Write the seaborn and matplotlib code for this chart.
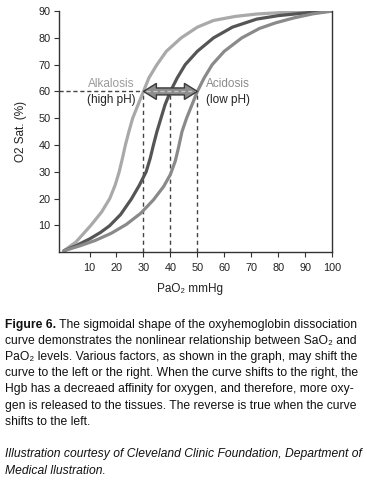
import matplotlib
matplotlib.use("Agg")
import matplotlib.pyplot as plt
from matplotlib.patches import Polygon
import seaborn as sns
import pandas as pd

# --- data ---
alk_x = [0.5, 5, 10.5, 14.5, 17.5, 19.5, 21, 22.2, 23.3, 24.6, 26, 28, 30, 32, 35, 38.5, 44, 50, 56, 64, 72, 82, 91, 100]
alk_y = [0.5, 3.8, 10, 15, 20, 25, 30, 35, 40, 45, 50, 55, 60, 65, 70, 75, 80, 84, 86.5, 88, 88.9, 89.5, 89.8, 90]

nor_x = [0.5, 5, 10, 14, 17.4, 21.5, 25.5, 28.5, 31, 32.5, 33.7, 35, 36.5, 38, 40, 42.5, 45.5, 50, 56, 63, 72, 80, 91, 100]
nor_y = [0.5, 2.4, 4.9, 7.3, 9.8, 14, 19.8, 25, 30, 35, 40, 45, 50, 55, 60, 65, 70, 75, 80, 84, 87, 88.3, 89.4, 90]

aci_x = [0.5, 6, 12, 18, 23.6, 29, 33.7, 37.5, 40, 41.8, 43, 44.3, 46, 48, 50, 52.5, 55.5, 60, 66.5, 73, 79, 86, 93, 100]
aci_y = [0.5, 2.2, 4.3, 7.0, 10.3, 14.5, 19.5, 24.5, 29, 34, 39, 45, 50, 55, 60, 65, 70, 75, 80, 83.5, 85.6, 87.5, 89, 90]

xticks = [10, 20, 30, 40, 50, 60, 70, 80, 90, 100]
yticks = [10, 20, 30, 40, 50, 60, 70, 80, 90]
ref_y = 60
ref_x = [30, 40, 50]

caption_first = "The sigmoidal shape of the oxyhemoglobin dissociation"
caption = [
    "curve demonstrates the nonlinear relationship between SaO\u2082 and",
    "PaO\u2082 levels. Various factors, as shown in the graph, may shift the",
    "curve to the left or the right. When the curve shifts to the right, the",
    "Hgb has a decreaed affinity for oxygen, and therefore, more oxy-",
    "gen is released to the tissues. The reverse is true when the curve",
    "shifts to the left.",
]
credit = [
    "Illustration courtesy of Cleveland Clinic Foundation, Department of",
    "Medical llustration.",
]

sns.set_style("white")
plt.rcParams["font.family"] = ["Liberation Sans", "DejaVu Sans"]

fig = plt.figure(figsize=(3.67, 4.82), dpi=100)
ax = fig.add_axes([0.161, 0.477, 0.744, 0.500])

df = pd.concat([
    pd.DataFrame({"x": alk_x, "y": alk_y, "c": "alk"}),
    pd.DataFrame({"x": nor_x, "y": nor_y, "c": "nor"}),
    pd.DataFrame({"x": aci_x, "y": aci_y, "c": "aci"}),
])
palette = {"alk": "#a9a9a9", "nor": "#555555", "aci": "#8a8a8a"}
sns.lineplot(data=df, x="x", y="y", hue="c", palette=palette, sort=False,
             linewidth=2.3, legend=False, ax=ax, zorder=2)
for line in ax.lines:
    line.set_solid_capstyle("round")
    line.set_solid_joinstyle("round")

# dashed reference lines
ax.plot([-1.3, ref_x[0]], [ref_y, ref_y], ls=(0, (3, 2)), color="#444444", lw=1.0, zorder=1)
for xv in ref_x:
    ax.plot([xv, xv], [0, ref_y], ls=(0, (3, 2.5)), color="#444444", lw=1.0, zorder=1)

# double-headed arrow between the shifted curves (shape sizes in data units)
x0, x1 = ref_x[0], ref_x[2]
hl, hw, sw = 4.8, 3.0, 1.3
arrow_pts = [
    (x0, ref_y), (x0 + hl, ref_y + hw), (x0 + hl, ref_y + sw), (x1 - hl, ref_y + sw),
    (x1 - hl, ref_y + hw), (x1, ref_y), (x1 - hl, ref_y - hw), (x1 - hl, ref_y - sw),
    (x0 + hl, ref_y - sw), (x0 + hl, ref_y - hw),
]
ax.add_patch(Polygon(arrow_pts, closed=True, facecolor="#8c8c8c", edgecolor="#3a3a3a",
                     lw=1.0, joinstyle="miter", zorder=4))
ax.plot([x0 + 1, x1 - 1], [ref_y, ref_y], ls=(0, (3, 2)), color="#c8c8c8", lw=1.0, zorder=5)

ax.text(18, 60.6, "Alkalosis", color="#9a9a9a", fontsize=8.5, ha="center", va="bottom")
ax.text(18, 59.2, "(high pH)", color="#222222", fontsize=8.5, ha="center", va="top")
ax.text(61.5, 60.6, "Acidosis", color="#8a8a8a", fontsize=8.5, ha="center", va="bottom")
ax.text(61.5, 59.2, "(low pH)", color="#222222", fontsize=8.5, ha="center", va="top")

ax.set_xlim(-1.3, 100)
ax.set_ylim(0, 90)
ax.set_xticks(xticks)
ax.set_yticks(yticks)
ax.set_xticklabels([str(v) for v in xticks])
ax.set_yticklabels([str(v) for v in yticks])
ax.tick_params(axis="both", direction="out", length=3.5, width=0.8, color="#333333",
               labelsize=7.8, labelcolor="#222222", pad=2.5, left=True, bottom=True)
ax.tick_params(axis="x", pad=4)
for s in ["left", "bottom", "right"]:
    ax.spines[s].set_color("#333333")
    ax.spines[s].set_linewidth(1.0)
ax.spines["top"].set_visible(False)
ax.set_xlabel("PaO\u2082 mmHg", fontsize=8.5, color="#222222")
ax.xaxis.set_label_coords(0.478, -0.128)
ax.set_ylabel("O2 Sat. (%)", fontsize=8.5, color="#222222")
ax.yaxis.set_label_coords(-0.117, 0.5)

# caption
fs = 8.75
t0 = fig.text(5 / 367, 1 - 325 / 482, "Figure 6.", fontsize=fs, fontweight="bold",
              ha="left", va="center", color="#111111")
ax.annotate(" " + caption_first, xy=(1, 0), xycoords=t0, ha="left", va="bottom",
            fontsize=fs, color="#111111", annotation_clip=False)
for i, line in enumerate(caption):
    fig.text(5 / 367, 1 - (325 + 16.1 * (i + 1)) / 482, line, fontsize=fs,
             ha="left", va="center", color="#111111")
for i, line in enumerate(credit):
    fig.text(5 / 367, 1 - (454 + 16.5 * i) / 482, line, fontsize=fs, style="italic",
             ha="left", va="center", color="#111111")

fig.savefig("out.png", dpi=100)
